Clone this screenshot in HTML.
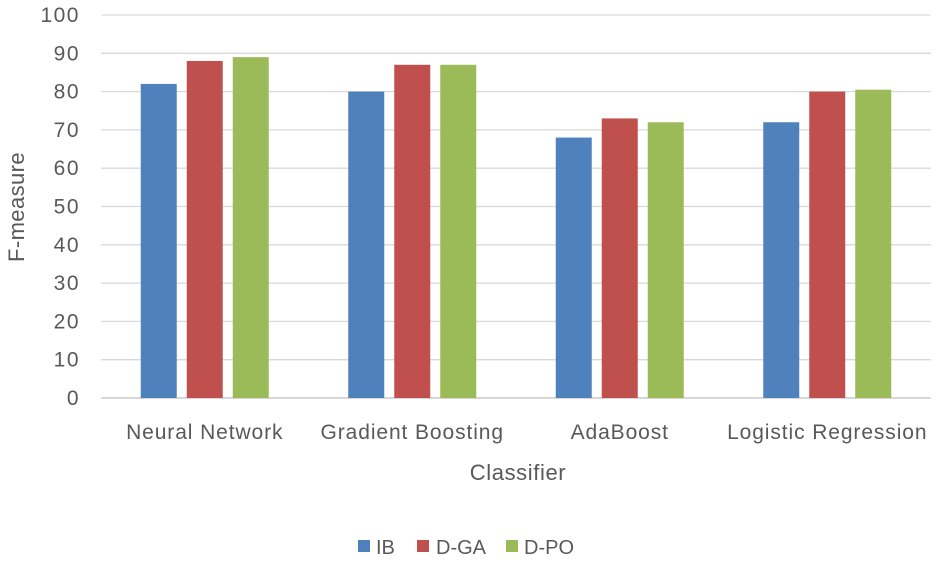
<!DOCTYPE html>
<html><head><meta charset="utf-8"><style>
body{margin:0;background:#fff;}
svg text{font-family:"Liberation Sans",sans-serif;fill:#595959;}
</style></head><body>
<svg width="941" height="560">
<g id="grid"></g><g id="bars"></g><g id="labels"></g>
<text x="518" y="480" font-size="22" letter-spacing="0.6" text-anchor="middle">Classifier</text>
<text transform="translate(24,207) rotate(-90)" font-size="22" letter-spacing="0.4" text-anchor="middle">F-measure</text>
<g>
<rect x="358" y="540" width="12" height="12" fill="#4F81BD"/>
<text x="376" y="554" font-size="20">IB</text>
<rect x="417" y="540" width="12" height="12" fill="#C0504D"/>
<text x="436" y="554" font-size="20">D-GA</text>
<rect x="506" y="540" width="12" height="12" fill="#9BBB59"/>
<text x="524" y="554" font-size="20">D-PO</text>
</g>
</svg>
<script>
const categories=["Neural Network","Gradient Boosting","AdaBoost","Logistic Regression"];
const seriesIB=[82,80,68,72];
const seriesDGA=[88,87,73,80];
const seriesDPO=[89,87,72,80.5];
const yTicks=[0,10,20,30,40,50,60,70,80,90,100];
const NS="http://www.w3.org/2000/svg";
const x0=101,x1=931,yb=398,yt=15;
const y=v=>yb-(v/100)*(yb-yt);
const band=(x1-x0)/categories.length;
const g=document.getElementById('grid'),b=document.getElementById('bars'),l=document.getElementById('labels');
function mk(t,a,p){const e=document.createElementNS(NS,t);for(const k in a)e.setAttribute(k,a[k]);p.appendChild(e);return e;}
yTicks.forEach(v=>{
 const ln=mk('line',{x1:x0,x2:x1,y1:y(v),y2:y(v),stroke:v===0?'#bfbfbf':'#d9d9d9','stroke-width':1.3},g);
 
 
 const t=mk('text',{x:80,y:y(v)+7,'font-size':21,'letter-spacing':1.5,'text-anchor':'end'},l);t.textContent=v;
 
 
});
const series=[[seriesIB,'#4F81BD','ib'],[seriesDGA,'#C0504D','dga'],[seriesDPO,'#9BBB59','dpo']];
const bw=36,gap=10;
categories.forEach((c,i)=>{
 const cx=x0+band*(i+0.5);
 series.forEach((s,j)=>{
  const bx=cx+(j-1)*(bw+gap)-bw/2;
  const r=mk('rect',{x:bx,y:y(s[0][i]),width:bw,height:yb-y(s[0][i]),fill:s[1]},b);
  
  
 });
 const t=mk('text',{x:cx,y:439,'font-size':21,'letter-spacing':0.9,'text-anchor':'middle'},l);t.textContent=c;
 
 
});
</script>
</body></html>
